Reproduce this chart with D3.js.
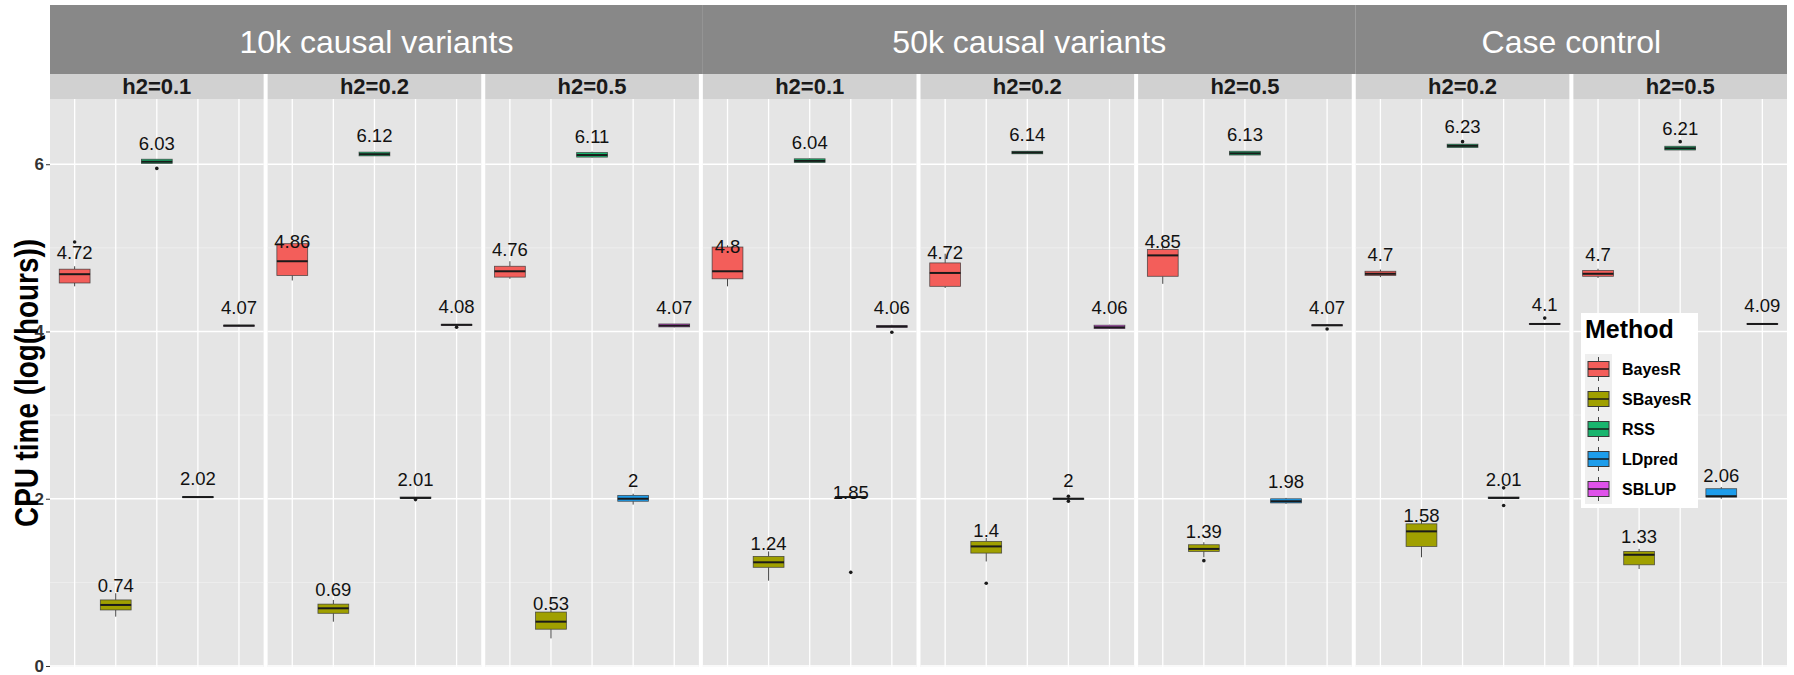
<!DOCTYPE html>
<html>
<head>
<meta charset="utf-8">
<script src="https://cdn.jsdelivr.net/npm/d3@7"></script>
<style>
  body { margin: 0; background: #fff; }
  text { font-family: "Liberation Sans", Arial, Helvetica, sans-serif; }
</style>
</head>
<body>
<div id="my_dataviz"></div>
<script>
// facet layout: 8 panels left to right
const groups = ["10k causal variants", "50k causal variants", "Case control"];
const panelGroup = [0, 0, 0, 1, 1, 1, 2, 2];
const panelH2 = ["h2=0.1", "h2=0.2", "h2=0.5", "h2=0.1", "h2=0.2", "h2=0.5", "h2=0.2", "h2=0.5"];

const methods = ["BayesR", "SBayesR", "RSS", "LDpred", "SBLUP"];
const methodColors = ["#F35E5A", "#A0A000", "#19B56E", "#1E9DEB", "#DF52EA"];

const yTicks = [0, 2, 4, 6];
const yMinorTicks = [1, 3, 5];

// box stats per panel: [lower whisker, q1, median, q3, upper whisker]
const bayesR = [
    [4.54, 4.58, 4.685, 4.745, 4.78], [4.61, 4.67, 4.84, 5.05, 5.07], [4.63, 4.65, 4.72, 4.78, 4.84], [4.54, 4.63, 4.72, 5.01, 5.03],
    [4.52, 4.54, 4.70, 4.82, 4.93], [4.57, 4.66, 4.91, 4.98, 5.03], [4.65, 4.67, 4.69, 4.72, 4.74], [4.64, 4.66, 4.69, 4.73, 4.75]
];
const sBayesR = [
    [0.59, 0.67, 0.73, 0.79, 0.87], [0.53, 0.63, 0.69, 0.74, 0.79], [0.33, 0.44, 0.53, 0.645, 0.70], [1.02, 1.18, 1.24, 1.31, 1.37],
    [1.25, 1.35, 1.43, 1.49, 1.53], [1.30, 1.37, 1.40, 1.45, 1.48], [1.30, 1.43, 1.61, 1.70, 1.74], [1.16, 1.21, 1.33, 1.37, 1.40]
];
const rss = [
    [6.01, 6.01, 6.03, 6.06, 6.06], [6.10, 6.10, 6.12, 6.145, 6.15], [6.08, 6.085, 6.11, 6.14, 6.15], [6.02, 6.02, 6.04, 6.065, 6.07],
    [6.125, 6.125, 6.14, 6.155, 6.16], [6.11, 6.11, 6.13, 6.155, 6.16], [6.20, 6.20, 6.22, 6.24, 6.24], [6.17, 6.17, 6.19, 6.215, 6.22]
];
const ldpred = [
    [2.01, 2.015, 2.02, 2.025, 2.03], [2.00, 2.005, 2.01, 2.02, 2.02], [1.93, 1.97, 2.00, 2.04, 2.06], [2.01, 2.015, 2.02, 2.025, 2.03],
    [1.99, 1.995, 2.00, 2.005, 2.01], [1.94, 1.95, 1.97, 2.00, 2.01], [2.00, 2.005, 2.01, 2.02, 2.02], [2.00, 2.02, 2.03, 2.12, 2.14]
];
const sblup = [
    [4.06, 4.065, 4.07, 4.075, 4.08], [4.07, 4.075, 4.08, 4.085, 4.09], [4.05, 4.055, 4.07, 4.09, 4.09], [4.05, 4.05, 4.06, 4.07, 4.08],
    [4.03, 4.035, 4.05, 4.075, 4.08], [4.07, 4.07, 4.075, 4.08, 4.085], [4.09, 4.09, 4.09, 4.095, 4.10], [4.08, 4.085, 4.09, 4.095, 4.10]
];

// mean values printed above each box
const bayesRMean = [4.72, 4.86, 4.76, 4.8, 4.72, 4.85, 4.7, 4.7];
const sBayesRMean = [0.74, 0.69, 0.53, 1.24, 1.4, 1.39, 1.58, 1.33];
const rssMean = [6.03, 6.12, 6.11, 6.04, 6.14, 6.13, 6.23, 6.21];
const ldpredMean = [2.02, 2.01, 2, 1.85, 2, 1.98, 2.01, 2.06];
const sblupMean = [4.07, 4.08, 4.07, 4.06, 4.06, 4.07, 4.1, 4.09];

// outlier points per panel
const bayesROut = [[5.07], [], [], [], [], [], [], []];
const sBayesROut = [[], [], [], [], [0.99], [1.26], [], []];
const rssOut = [[5.95], [], [], [], [], [], [6.27], [6.27]];
const ldpredOut = [[], [1.99], [], [1.12], [2.03, 1.97], [], [2.13, 1.92], []];
const sblupOut = [[], [4.05], [], [3.99], [], [4.03], [4.16], []];

function createFacetBoxplot(parentElement) {

    const width = 1794, height = 675;

    // vertical layout of strips and panels
    const stripTop = 5, stripBottom = 74, subBottom = 99, plotBottom = 667;

    const svg = d3.select("#" + parentElement)
        .append("svg")
        .attr("width", width)
        .attr("height", height);

    // build a flat table from the arrays
    const stats = [bayesR, sBayesR, rss, ldpred, sblup];
    const means = [bayesRMean, sBayesRMean, rssMean, ldpredMean, sblupMean];
    const outs = [bayesROut, sBayesROut, rssOut, ldpredOut, sblupOut];
    const rows = [];
    panelH2.forEach((h, p) => {
        methods.forEach((m, i) => {
            const s = stats[i][p];
            rows.push({
                panel: p, method: m, color: methodColors[i],
                lo: s[0], q1: s[1], med: s[2], q3: s[3], hi: s[4],
                mean: means[i][p], out: outs[i][p]
            });
        });
    });

    // panel scale and method scale inside one panel
    const x = d3.scaleBand()
        .domain(d3.range(panelH2.length))
        .range([50, 1787])
        .paddingInner(0.0184);

    const xm = d3.scalePoint()
        .domain(methods)
        .range([0, x.bandwidth()])
        .padding(0.6);

    const boxW = xm.step() * 0.75;

    const y = d3.scaleLinear()
        .domain([-0.012, 6.78])
        .range([plotBottom, subBottom]);

    // group strips (dark)
    groups.forEach((g, gi) => {
        const ps = d3.range(panelH2.length).filter(p => panelGroup[p] === gi);
        const left = x(ps[0]);
        const right = gi < groups.length - 1 ? x(ps[ps.length - 1] + 1) : x(ps[ps.length - 1]) + x.bandwidth();
        svg.append("rect")
            .attr("x", left)
            .attr("y", stripTop)
            .attr("width", right - left)
            .attr("height", stripBottom - stripTop)
            .attr("fill", "#888888");
        svg.append("text")
            .attr("x", (left + right) / 2)
            .attr("y", 53)
            .attr("text-anchor", "middle")
            .style("font-size", "32px")
            .style("fill", "white")
            .text(g);
    });

    const panel = svg.selectAll("g.panel")
        .data(panelH2)
        .join("g")
        .attr("class", "panel")
        .attr("transform", (d, i) => `translate(${x(i)},0)`);

    // h2 strips (light)
    panel.append("rect")
        .attr("y", stripBottom)
        .attr("width", x.bandwidth())
        .attr("height", subBottom - stripBottom)
        .attr("fill", "#d1d1d1");

    panel.append("text")
        .attr("x", x.bandwidth() / 2)
        .attr("y", 94)
        .attr("text-anchor", "middle")
        .style("font-size", "22px")
        .style("font-weight", "bold")
        .style("fill", "#1a1a1a")
        .text(d => d);

    // panel background
    panel.append("rect")
        .attr("y", subBottom)
        .attr("width", x.bandwidth())
        .attr("height", plotBottom - subBottom)
        .attr("fill", "#e5e5e5");

    // grid lines
    panel.selectAll("line.minor")
        .data(yMinorTicks)
        .join("line")
        .attr("x1", 0).attr("x2", x.bandwidth())
        .attr("y1", d => y(d)).attr("y2", d => y(d))
        .attr("stroke", "#f2f2f2")
        .attr("stroke-width", 0.7);

    panel.selectAll("line.major")
        .data(yTicks)
        .join("line")
        .attr("x1", 0).attr("x2", x.bandwidth())
        .attr("y1", d => y(d)).attr("y2", d => y(d))
        .attr("stroke", "white")
        .attr("stroke-width", 1.3);

    panel.selectAll("line.vgrid")
        .data(methods)
        .join("line")
        .attr("x1", d => xm(d)).attr("x2", d => xm(d))
        .attr("y1", subBottom).attr("y2", plotBottom)
        .attr("stroke", "white")
        .attr("stroke-width", 1.3);

    // the boxes
    const box = svg.selectAll("g.box")
        .data(rows)
        .join("g")
        .attr("class", "box")
        .attr("transform", d => `translate(${x(d.panel) + xm(d.method)},0)`);

    box.append("line")
        .attr("y1", d => y(d.hi)).attr("y2", d => y(d.q3))
        .attr("stroke", "#444").attr("stroke-width", 1);

    box.append("line")
        .attr("y1", d => y(d.q1)).attr("y2", d => y(d.lo))
        .attr("stroke", "#444").attr("stroke-width", 1);

    box.append("rect")
        .attr("x", -boxW / 2)
        .attr("width", boxW)
        .attr("y", d => y(d.q3))
        .attr("height", d => Math.max(y(d.q1) - y(d.q3), 1))
        .attr("fill", d => d.color)
        .attr("stroke", "#333")
        .attr("stroke-opacity", 0.8)
        .attr("stroke-width", 0.8);

    box.append("line")
        .attr("x1", -boxW / 2).attr("x2", boxW / 2)
        .attr("y1", d => y(d.med)).attr("y2", d => y(d.med))
        .attr("stroke", "#1a1a1a").attr("stroke-width", 2);

    box.selectAll("circle")
        .data(d => d.out)
        .join("circle")
        .attr("cy", d => y(d))
        .attr("r", 1.8)
        .attr("fill", "#1a1a1a");

    box.append("text")
        .attr("y", d => y(d.mean) - 12)
        .attr("text-anchor", "middle")
        .style("font-size", "18.5px")
        .style("fill", "#111")
        .text(d => String(d.mean));

    // y axis
    const yAxis = svg.append("g")
        .attr("transform", "translate(50,0)")
        .call(d3.axisLeft(y).tickValues(yTicks).tickFormat(d3.format("d")).tickSize(4).tickPadding(2));
    yAxis.select(".domain").remove();
    yAxis.selectAll(".tick line").attr("stroke", "#333");
    yAxis.selectAll(".tick text")
        .attr("font-size", 17)
        .attr("font-weight", "bold")
        .attr("font-family", "'Liberation Sans', Arial, sans-serif")
        .attr("fill", "#333");

    svg.append("text")
        .attr("transform", `translate(38,${(subBottom + plotBottom) / 2}) rotate(-90)`)
        .attr("text-anchor", "middle")
        .attr("textLength", 288)
        .attr("lengthAdjust", "spacingAndGlyphs")
        .style("font-size", "33px")
        .style("font-weight", "bold")
        .style("fill", "black")
        .text("CPU time (log(hours))");

    // legend
    const legend = svg.append("g").attr("transform", "translate(1581,313)");

    legend.append("rect")
        .attr("width", 117)
        .attr("height", 195)
        .attr("fill", "white");

    legend.append("text")
        .attr("x", 4)
        .attr("y", 25)
        .style("font-size", "25px")
        .style("font-weight", "bold")
        .style("fill", "black")
        .text("Method");

    methods.forEach((m, i) => {
        const item = legend.append("g")
            .attr("transform", `translate(4, ${41 + 30 * i})`);

        item.append("rect")
            .attr("width", 27)
            .attr("height", 30)
            .attr("fill", "#efefef");

        item.append("line")
            .attr("x1", 13.5).attr("x2", 13.5)
            .attr("y1", 3).attr("y2", 27)
            .attr("stroke", "#444");

        item.append("rect")
            .attr("x", 3)
            .attr("y", 7.5)
            .attr("width", 21)
            .attr("height", 15)
            .attr("fill", methodColors[i])
            .attr("stroke", "#3a3a3a");

        item.append("line")
            .attr("x1", 3).attr("x2", 24)
            .attr("y1", 15).attr("y2", 15)
            .attr("stroke", "#1a1a1a")
            .attr("stroke-width", 1.5);

        item.append("text")
            .attr("x", 37)
            .attr("y", 21)
            .style("font-size", "16px")
            .style("font-weight", "bold")
            .style("fill", "black")
            .text(m);
    });
}

createFacetBoxplot("my_dataviz");
</script>
</body>
</html>
